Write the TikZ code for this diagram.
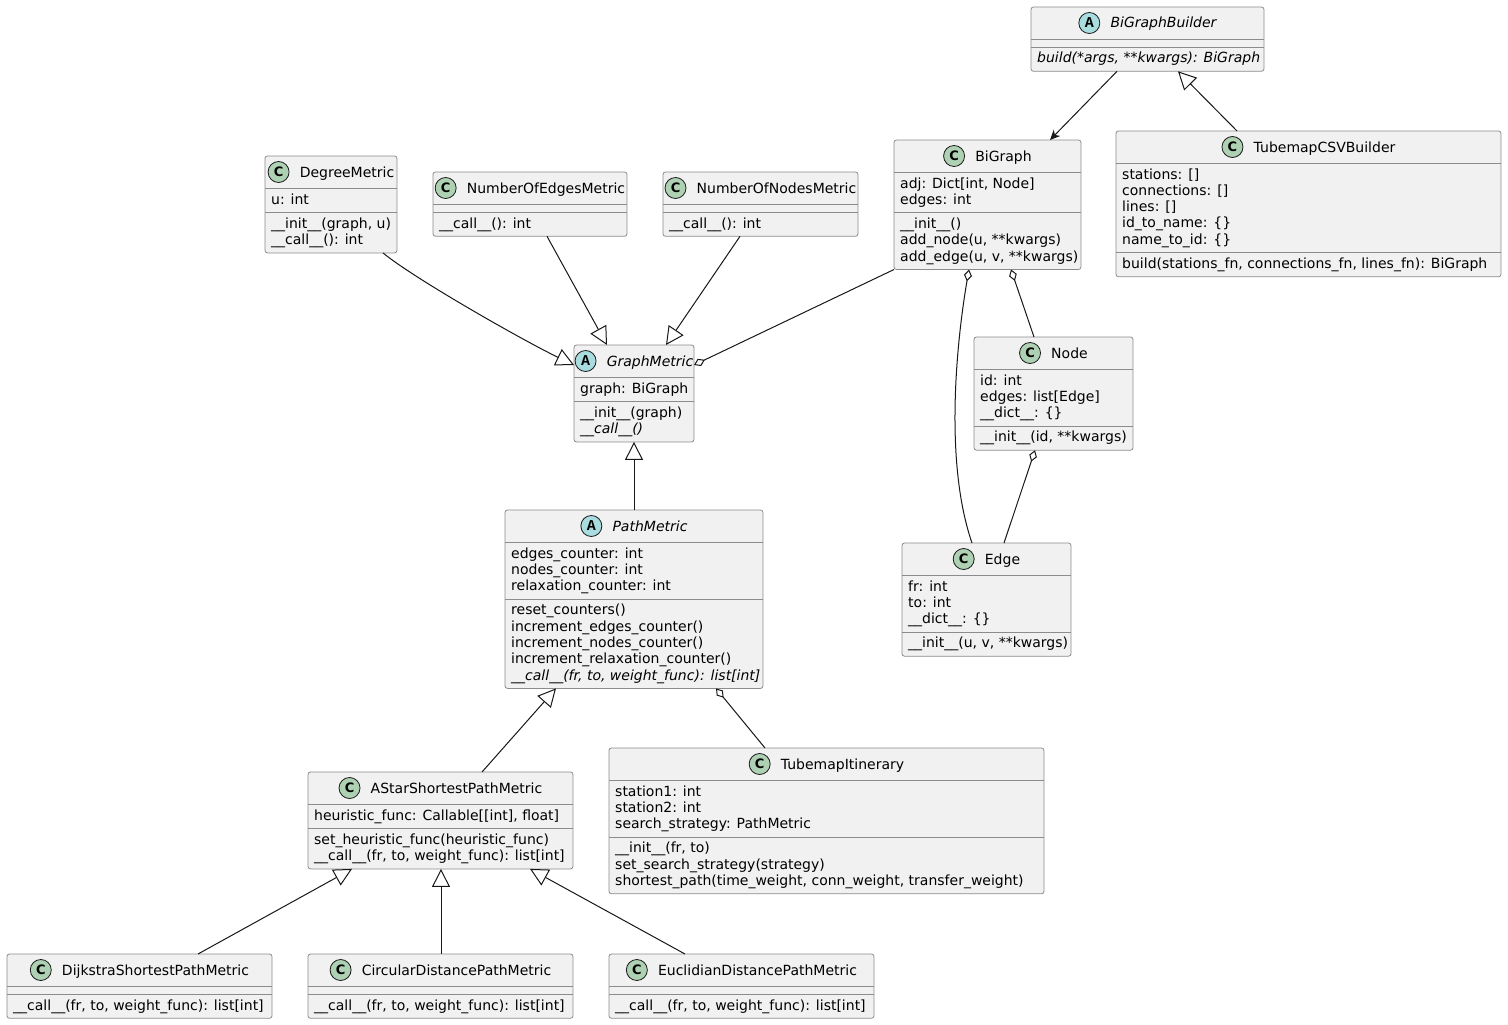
\documentclass[tikz,border=0pt]{standalone}
\usepackage{fontspec}
\setmainfont{DejaVu Sans}
\newfontfamily\iconmono{Liberation Mono}
\usetikzlibrary{arrows.meta,calc}

\definecolor{boxfill}{HTML}{F1F1F1}
\definecolor{boxline}{HTML}{8C8C8C}
\definecolor{ink}{HTML}{181818}
\definecolor{classicon}{HTML}{ADD1B2}
\definecolor{abstracticon}{HTML}{A9DCDF}

\tikzset{
  classbox/.style={rectangle, draw=boxline, fill=boxfill, line width=0.8pt,
    rounded corners=2.5pt, inner sep=0pt, outer sep=0pt},
  sepline/.style={draw=boxline, line width=0.8pt},
  txt/.style={anchor=base west, inner sep=0pt, font=\fontsize{14}{16.3}\selectfont},
  hdr/.style={anchor=base, inner sep=0pt, font=\fontsize{14}{16.3}\selectfont},
  iconC/.style={circle, draw=ink, line width=0.8pt, fill=classicon,
    minimum size=21pt, inner sep=0pt, font=\fontsize{13}{13}\selectfont\bfseries},
  iconA/.style={circle, draw=ink, line width=0.8pt, fill=abstracticon,
    minimum size=21pt, inner sep=0pt, font=\iconmono\fontsize{15}{15}\selectfont\bfseries},
  link/.style={draw=ink, line width=1pt},
  inherit/.style={link, -{Triangle[length=18pt,width=18pt,fill=white]}},
  aggr/.style={link, {Diamond[length=12pt,width=8pt,fill=white]}-},
  assoc/.style={link, -{Stealth[length=10pt,width=9pt,inset=3pt]}},
}

% class box: name, x, y, width, #attribute lines, #method lines, icon style, title, icon letter
\newcommand\umlbox[9]{%
  \pgfmathsetmacro\secA{8+16.3*#5}%
  \pgfmathsetmacro\secM{8+16.3*#6}%
  \pgfmathsetmacro\boxH{32+\secA+\secM}%
  \node[classbox, minimum width=#4pt, minimum height=\boxH pt, anchor=north west] (#1) at (#2,#3) {};
  \coordinate (#1A) at ($(#1.north west)+(0,32)$);
  \coordinate (#1M) at ($(#1A)+(0,\secA)$);
  \draw[sepline] (#1A) -- (#1A -| #1.east);
  \draw[sepline] (#1M) -- (#1M -| #1.east);
  \node[hdr] (#1T) at ($(#1.north)+(0,21)$) {\hspace*{32pt}#8};
  \node[#7] (#1I) at ($(#1T.base west)+(11,-5)$) {#9};
}

% member lines of one compartment, starting below a separator coordinate
\newcommand\umllines[2]{%
  \foreach \t [count=\i from 0] in {#2} {
    \node[txt] at ($(#1)+(6,{16+16.3*\i})$) {\t};
  }
}

\begin{document}
\begin{tikzpicture}[x=1pt, y=-1pt]
\fill[white] (0,0) rectangle (1508,1025);
\useasboundingbox (0,0) rectangle (1508,1025);

% ---- classes ----
\umlbox{bgb}{1031}{7}{233}{0}{1}{iconA}{\itshape BiGraphBuilder}{A}
\umllines{bgbM}{{\itshape build(*args, **kwargs): BiGraph}}

\umlbox{csv}{1116}{131}{385}{5}{1}{iconC}{TubemapCSVBuilder}{C}
\umllines{csvA}{{stations: []},{connections: []},{lines: []},{id\_to\_name: \{\}},{name\_to\_id: \{\}}}
\umllines{csvM}{{build(stations\_fn, connections\_fn, lines\_fn): BiGraph}}

\umlbox{bg}{894}{140}{187}{2}{3}{iconC}{BiGraph}{C}
\umllines{bgA}{{adj: Dict[int, Node]},{edges: int}}
\umllines{bgM}{{\_\_init\_\_()},{add\_node(u, **kwargs)},{add\_edge(u, v, **kwargs)}}

\umlbox{deg}{265}{156}{132}{1}{2}{iconC}{DegreeMetric}{C}
\umllines{degA}{{u: int}}
\umllines{degM}{{\_\_init\_\_(graph, u)},{\_\_call\_\_(): int}}

\umlbox{noe}{433}{172}{194}{0}{1}{iconC}{NumberOfEdgesMetric}{C}
\umllines{noeM}{{\_\_call\_\_(): int}}

\umlbox{non}{663}{172}{195}{0}{1}{iconC}{NumberOfNodesMetric}{C}
\umllines{nonM}{{\_\_call\_\_(): int}}

\umlbox{gm}{574}{345}{120}{1}{2}{iconA}{\itshape GraphMetric}{A}
\umllines{gmA}{{graph: BiGraph}}
\umllines{gmM}{{\_\_init\_\_(graph)},{\itshape \_\_call\_\_()}}

\umlbox{nd}{974}{337}{159}{3}{1}{iconC}{Node}{C}
\umllines{ndA}{{id: int},{edges: list[Edge]},{\_\_dict\_\_: \{\}}}
\umllines{ndM}{{\_\_init\_\_(id, **kwargs)}}

\umlbox{pm}{505}{510}{258}{3}{5}{iconA}{\itshape PathMetric}{A}
\umllines{pmA}{{edges\_counter: int},{nodes\_counter: int},{relaxation\_counter: int}}
\umllines{pmM}{{reset\_counters()},{increment\_edges\_counter()},{increment\_nodes\_counter()},{increment\_relaxation\_counter()},{\itshape \_\_call\_\_(fr, to, weight\_func): list[int]}}

\umlbox{ed}{902}{543}{169}{3}{1}{iconC}{Edge}{C}
\umllines{edA}{{fr: int},{to: int},{\_\_dict\_\_: \{\}}}
\umllines{edM}{{\_\_init\_\_(u, v, **kwargs)}}

\umlbox{it}{609}{748}{435}{3}{3}{iconC}{TubemapItinerary}{C}
\umllines{itA}{{station1: int},{station2: int},{search\_strategy: PathMetric}}
\umllines{itM}{{\_\_init\_\_(fr, to)},{set\_search\_strategy(strategy)},{shortest\_path(time\_weight, conn\_weight, transfer\_weight)}}

\umlbox{as}{308}{772}{265}{1}{2}{iconC}{AStarShortestPathMetric}{C}
\umllines{asA}{{heuristic\_func: Callable[[int], float]}}
\umllines{asM}{{set\_heuristic\_func(heuristic\_func)},{\_\_call\_\_(fr, to, weight\_func): list[int]}}

\umlbox{dj}{7}{954}{265}{0}{1}{iconC}{DijkstraShortestPathMetric}{C}
\umllines{djM}{{\_\_call\_\_(fr, to, weight\_func): list[int]}}

\umlbox{ci}{308}{954}{265}{0}{1}{iconC}{CircularDistancePathMetric}{C}
\umllines{ciM}{{\_\_call\_\_(fr, to, weight\_func): list[int]}}

\umlbox{eu}{609}{954}{265}{0}{1}{iconC}{EuclidianDistancePathMetric}{C}
\umllines{euM}{{\_\_call\_\_(fr, to, weight\_func): list[int]}}

% ---- relations ----
\draw[assoc] ($(bgb.south west)+(86,0)$) -- ($(bg.north west)+(156,0)$);
\draw[inherit] ($(csv.north west)+(121,0)$) -- ($(bgb.south west)+(147,0)$);

\draw[inherit] ($(deg.south west)+(118,0)$) .. controls +(30,25) and +(-50,-24) .. ($(gm.north west)+(0,20)$);
\draw[inherit] ($(noe.south west)+(114,0)$) -- ($(gm.north west)+(33,0)$);
\draw[inherit] ($(non.south west)+(77,0)$) -- ($(gm.north west)+(92,0)$);
\draw[aggr] ($(gm.north east)+(0,20)$) -- (bg.south west);

\draw[inherit] ($(pm.north west)+(129,0)$) -- ($(gm.south west)+(60,0)$);

\draw[aggr] ($(bg.south west)+(75,0)$) .. controls +(-7,40) and +(-32,-93) .. ($(ed.north west)+(70,0)$);
\draw[aggr] ($(bg.south west)+(117,0)$) -- ($(nd.north west)+(60,0)$);
\draw[aggr] ($(nd.south west)+(61,0)$) -- ($(ed.north west)+(102,0)$);

\draw[aggr] ($(pm.south west)+(211,0)$) -- ($(it.north west)+(156,0)$);
\draw[inherit] ($(as.north west)+(174,0)$) -- ($(pm.south west)+(51,0)$);

\draw[inherit] ($(dj.north west)+(191,0)$) -- ($(as.south west)+(44,0)$);
\draw[inherit] ($(ci.north west)+(133,0)$) -- ($(as.south west)+(133,0)$);
\draw[inherit] ($(eu.north west)+(76,0)$) -- ($(as.south west)+(222,0)$);
\end{tikzpicture}
\end{document}
